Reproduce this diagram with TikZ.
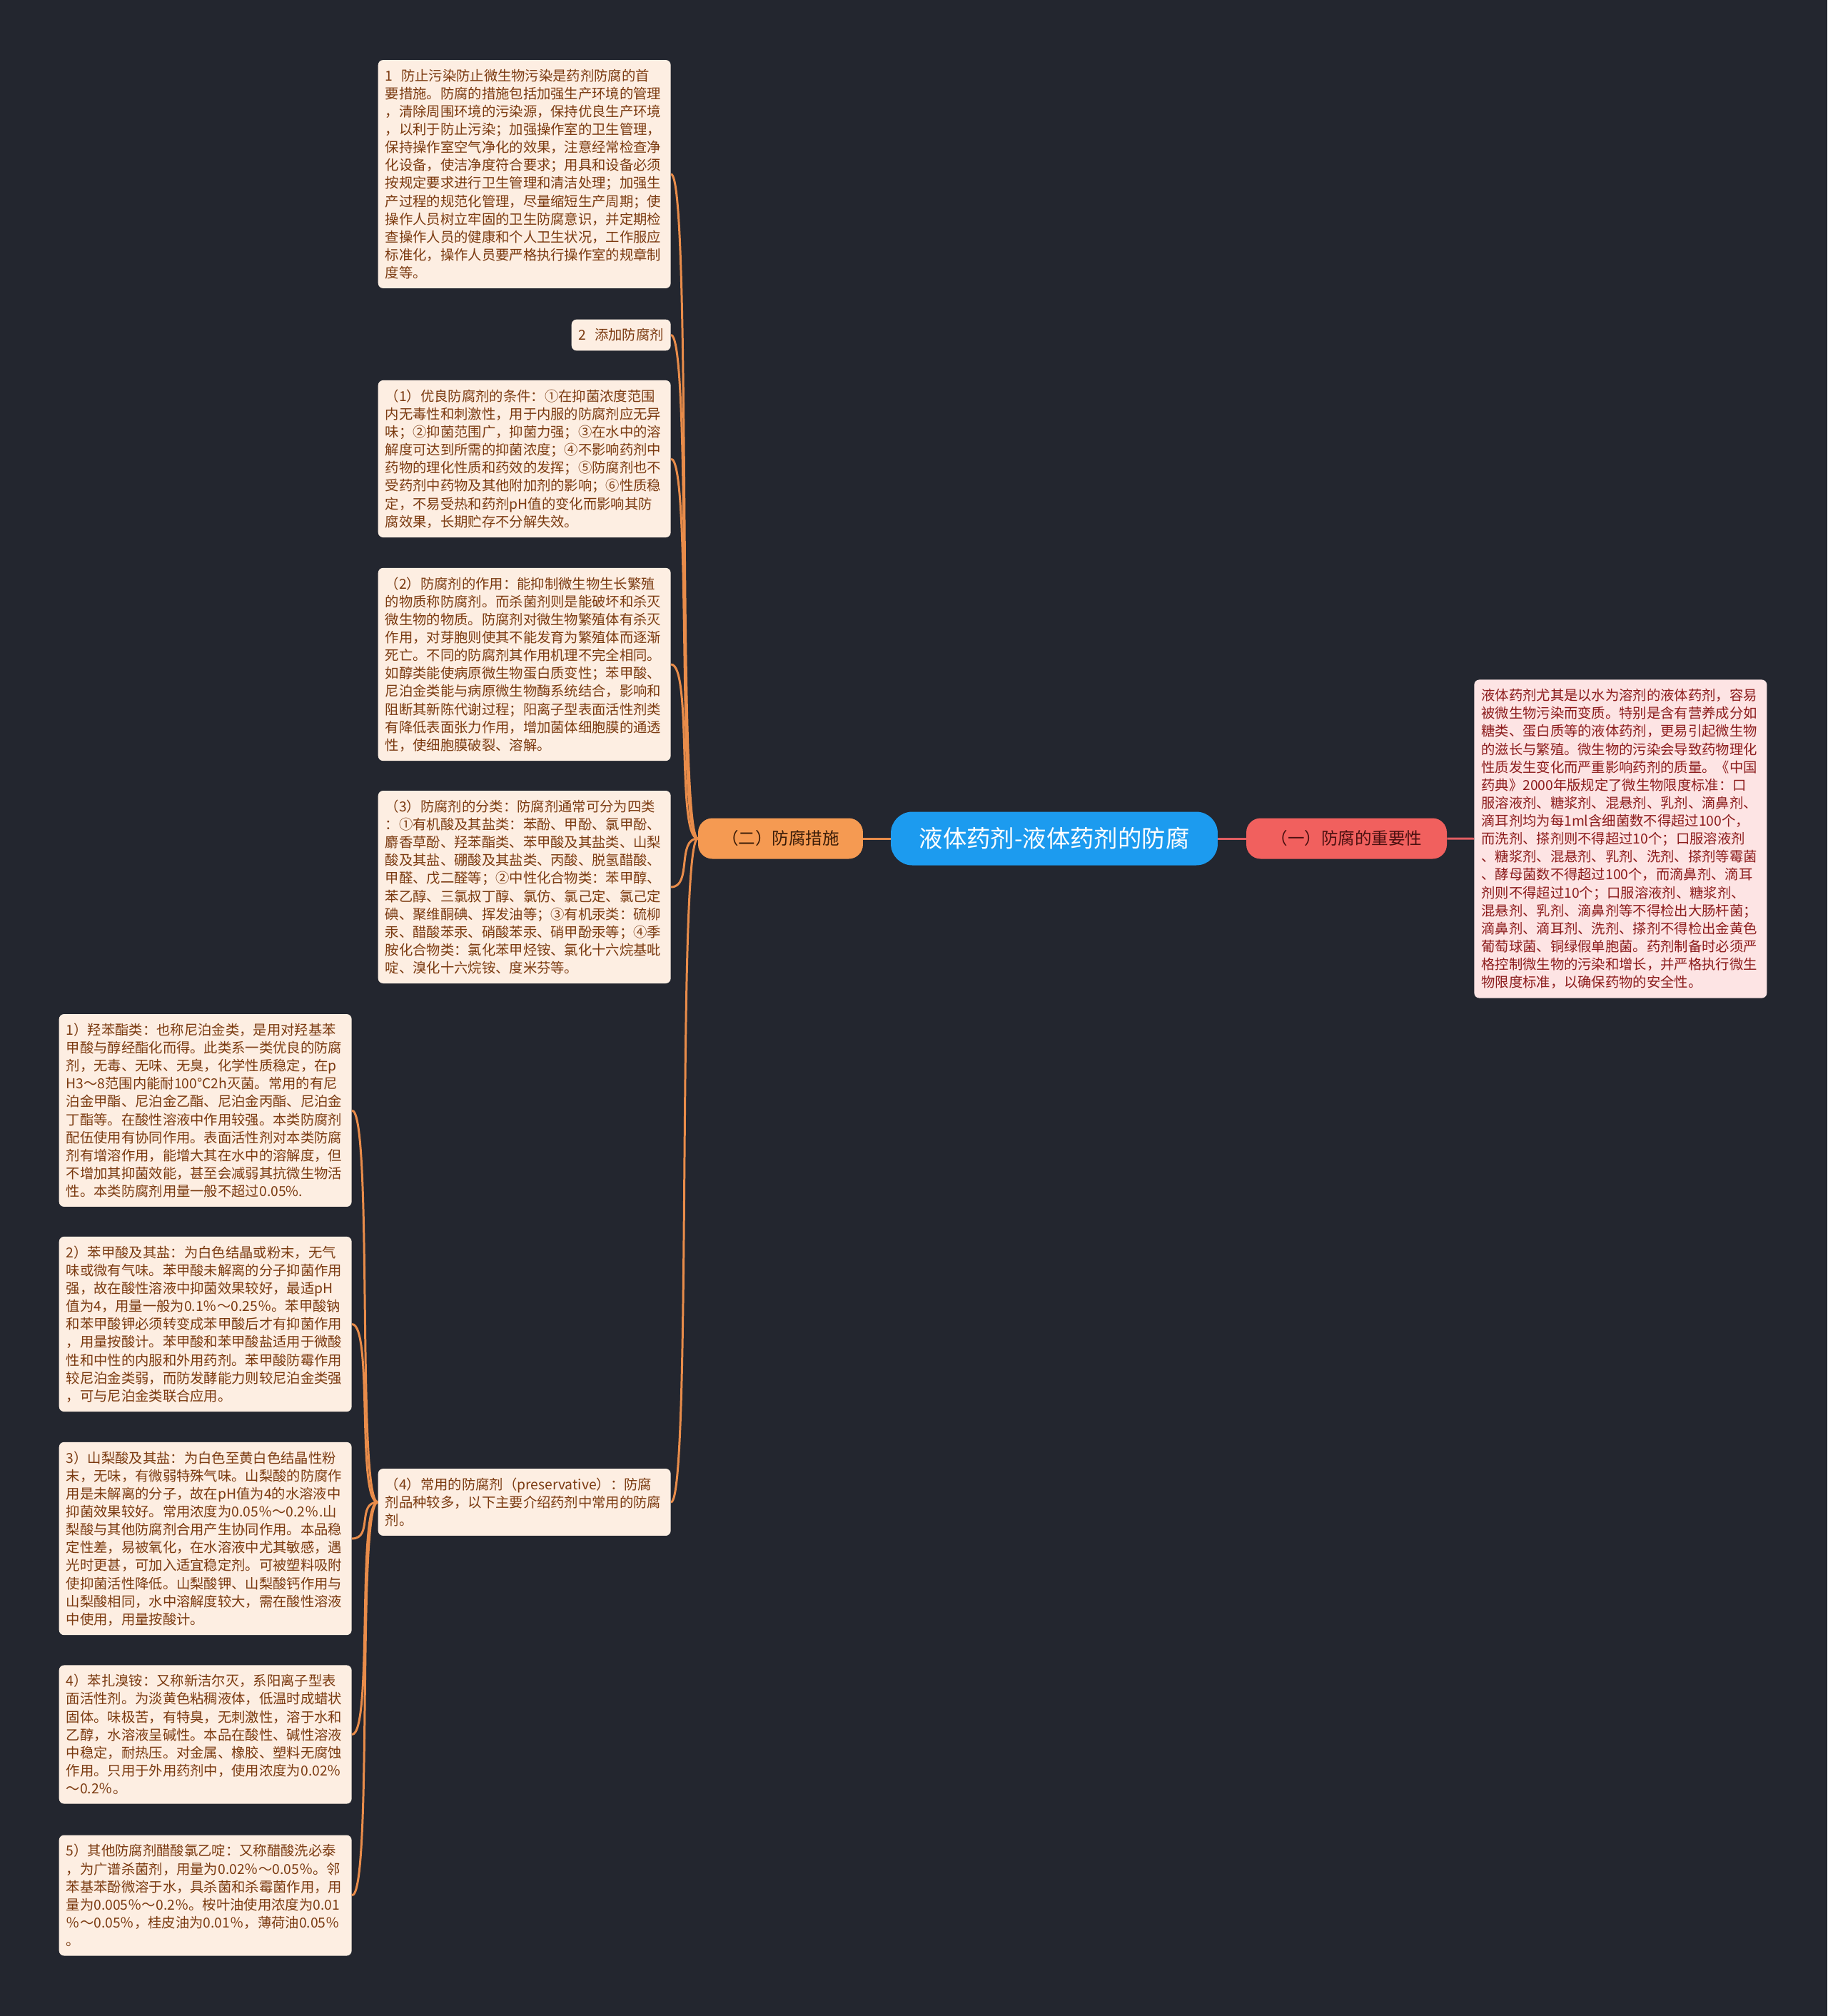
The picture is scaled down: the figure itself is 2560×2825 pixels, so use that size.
\documentclass[tikz,border=0pt]{standalone}
\usepackage{fontspec}
\newfontfamily\cjkfont{Noto Sans CJK SC}
\usepackage{tikz}
\definecolor{bgcol}{HTML}{23262F}
\definecolor{rootblue}{HTML}{1C9BEF}
\definecolor{orangefill}{HTML}{F59A52}
\definecolor{redfill}{HTML}{F1605E}
\definecolor{otext}{HTML}{3A1C08}
\definecolor{rtext}{HTML}{4A1010}
\definecolor{leaffill}{HTML}{FDEEE2}
\definecolor{leaftext}{HTML}{7B3A10}
\definecolor{pinkfill}{HTML}{FDE4E4}
\definecolor{pinktext}{HTML}{8C1C1C}
\definecolor{olinecol}{HTML}{E98C4A}
\definecolor{rlinecol}{HTML}{E15D62}

\begin{document}
\begin{tikzpicture}[x=0.02cm, y=-0.02cm,
  rootnode/.style={fill=rootblue, text=white, rounded corners=0.6cm, minimum width=9.16cm, minimum height=1.5cm, font=\cjkfont\fontsize{19}{23}\selectfont},
  subnode/.style={rounded corners=0.4cm, minimum height=1.14cm, font=\cjkfont\fontsize{13.4}{16}\selectfont},
  leafbox/.style={fill=leaffill, text=leaftext, rounded corners=4pt, inner xsep=0.2cm, inner ysep=7.3pt, align=left, font=\cjkfont\fontsize{11}{14.3}\selectfont},
  widebox/.style={leafbox, text width=7.8cm},
  pinkbox/.style={widebox, fill=pinkfill, text=pinktext},
  olink/.style={draw=olinecol, line width=1.7pt},
  rlink/.style={draw=rlinecol, line width=1.7pt}]
  \fill[bgcol] (0,0) rectangle (2560,2825);
  \useasboundingbox (0,0) rectangle (2560,2825);

  % centre and the two branches
  \node[rootnode] (root) at (1477,1175) {液体药剂-液体药剂的防腐};
  \node[subnode, fill=orangefill, text=otext, minimum width=4.62cm] (measure) at (1093.5,1175) {（二）防腐措施};
  \node[subnode, fill=redfill, text=rtext, minimum width=5.62cm] (importance) at (1886.5,1175) {（一）防腐的重要性};

  % right side
  \node[pinkbox, anchor=west] (why) at (2065,1175.5) {液体药剂尤其是以水为溶剂的液体药剂，容易\\被微生物污染而变质。特别是含有营养成分如\\糖类、蛋白质等的液体药剂，更易引起微生物\\的滋长与繁殖。微生物的污染会导致药物理化\\性质发生变化而严重影响药剂的质量。《中国\\药典》2000年版规定了微生物限度标准：口\\服溶液剂、糖浆剂、混悬剂、乳剂、滴鼻剂、\\滴耳剂均为每1ml含细菌数不得超过100个，\\而洗剂、搽剂则不得超过10个；口服溶液剂\\、糖浆剂、混悬剂、乳剂、洗剂、搽剂等霉菌\\、酵母菌数不得超过100个，而滴鼻剂、滴耳\\剂则不得超过10个；口服溶液剂、糖浆剂、\\混悬剂、乳剂、滴鼻剂等不得检出大肠杆菌；\\滴鼻剂、滴耳剂、洗剂、搽剂不得检出金黄色\\葡萄球菌、铜绿假单胞菌。药剂制备时必须严\\格控制微生物的污染和增长，并严格执行微生\\物限度标准，以确保药物的安全性。};

  % left side, first level
  \node[widebox, anchor=east] (clean) at (940,244) {1\hspace{0.6em}防止污染防止微生物污染是药剂防腐的首\\要措施。防腐的措施包括加强生产环境的管理\\，清除周围环境的污染源，保持优良生产环境\\，以利于防止污染；加强操作室的卫生管理，\\保持操作室空气净化的效果，注意经常检查净\\化设备，使洁净度符合要求；用具和设备必须\\按规定要求进行卫生管理和清洁处理；加强生\\产过程的规范化管理，尽量缩短生产周期；使\\操作人员树立牢固的卫生防腐意识，并定期检\\查操作人员的健康和个人卫生状况，工作服应\\标准化，操作人员要严格执行操作室的规章制\\度等。};
  \node[leafbox, anchor=east] (addp) at (940,469.5) {2\hspace{0.6em}添加防腐剂};
  \node[widebox, anchor=east] (cond) at (940,643) {（1）优良防腐剂的条件：①在抑菌浓度范围\\内无毒性和刺激性，用于内服的防腐剂应无异\\味；②抑菌范围广，抑菌力强；③在水中的溶\\解度可达到所需的抑菌浓度；④不影响药剂中\\药物的理化性质和药效的发挥；⑤防腐剂也不\\受药剂中药物及其他附加剂的影响；⑥性质稳\\定，不易受热和药剂pH值的变化而影响其防\\腐效果，长期贮存不分解失效。};
  \node[widebox, anchor=east] (role) at (940,931) {（2）防腐剂的作用：能抑制微生物生长繁殖\\的物质称防腐剂。而杀菌剂则是能破坏和杀灭\\微生物的物质。防腐剂对微生物繁殖体有杀灭\\作用，对芽胞则使其不能发育为繁殖体而逐渐\\死亡。不同的防腐剂其作用机理不完全相同。\\如醇类能使病原微生物蛋白质变性；苯甲酸、\\尼泊金类能与病原微生物酶系统结合，影响和\\阻断其新陈代谢过程；阳离子型表面活性剂类\\有降低表面张力作用，增加菌体细胞膜的通透\\性，使细胞膜破裂、溶解。};
  \node[widebox, anchor=east] (kinds) at (940,1243) {（3）防腐剂的分类：防腐剂通常可分为四类\\：①有机酸及其盐类：苯酚、甲酚、氯甲酚、\\麝香草酚、羟苯酯类、苯甲酸及其盐类、山梨\\酸及其盐、硼酸及其盐类、丙酸、脱氢醋酸、\\甲醛、戊二醛等；②中性化合物类：苯甲醇、\\苯乙醇、三氯叔丁醇、氯仿、氯己定、氯己定\\碘、聚维酮碘、挥发油等；③有机汞类：硫柳\\汞、醋酸苯汞、硝酸苯汞、硝甲酚汞等；④季\\胺化合物类：氯化苯甲烃铵、氯化十六烷基吡\\啶、溴化十六烷铵、度米芬等。};
  \node[widebox, anchor=east] (common) at (940,2105) {（4）常用的防腐剂（preservative）：防腐\\剂品种较多，以下主要介绍药剂中常用的防腐\\剂。};

  % left side, second level
  \node[widebox, anchor=east] (nipagin) at (493,1556) {1）羟苯酯类：也称尼泊金类，是用对羟基苯\\甲酸与醇经酯化而得。此类系一类优良的防腐\\剂，无毒、无味、无臭，化学性质稳定，在p\\H3～8范围内能耐100℃2h灭菌。常用的有尼\\泊金甲酯、尼泊金乙酯、尼泊金丙酯、尼泊金\\丁酯等。在酸性溶液中作用较强。本类防腐剂\\配伍使用有协同作用。表面活性剂对本类防腐\\剂有增溶作用，能增大其在水中的溶解度，但\\不增加其抑菌效能，甚至会减弱其抗微生物活\\性。本类防腐剂用量一般不超过0.05\%.};
  \node[widebox, anchor=east] (benzoic) at (493,1855.5) {2）苯甲酸及其盐：为白色结晶或粉末，无气\\味或微有气味。苯甲酸未解离的分子抑菌作用\\强，故在酸性溶液中抑菌效果较好，最适pH\\值为4，用量一般为0.1％～0.25％。苯甲酸钠\\和苯甲酸钾必须转变成苯甲酸后才有抑菌作用\\，用量按酸计。苯甲酸和苯甲酸盐适用于微酸\\性和中性的内服和外用药剂。苯甲酸防霉作用\\较尼泊金类弱，而防发酵能力则较尼泊金类强\\，可与尼泊金类联合应用。};
  \node[widebox, anchor=east] (sorbic) at (493,2156) {3）山梨酸及其盐：为白色至黄白色结晶性粉\\末，无味，有微弱特殊气味。山梨酸的防腐作\\用是未解离的分子，故在pH值为4的水溶液中\\抑菌效果较好。常用浓度为0.05％～0.2％.山\\梨酸与其他防腐剂合用产生协同作用。本品稳\\定性差，易被氧化，在水溶液中尤其敏感，遇\\光时更甚，可加入适宜稳定剂。可被塑料吸附\\使抑菌活性降低。山梨酸钾、山梨酸钙作用与\\山梨酸相同，水中溶解度较大，需在酸性溶液\\中使用，用量按酸计。};
  \node[widebox, anchor=east] (bromo) at (493,2430.5) {4）苯扎溴铵：又称新洁尔灭，系阳离子型表\\面活性剂。为淡黄色粘稠液体，低温时成蜡状\\固体。味极苦，有特臭，无刺激性，溶于水和\\乙醇，水溶液呈碱性。本品在酸性、碱性溶液\\中稳定，耐热压。对金属、橡胶、塑料无腐蚀\\作用。只用于外用药剂中，使用浓度为0.02％\\～0.2％。};
  \node[widebox, anchor=east] (other) at (493,2656) {5）其他防腐剂醋酸氯乙啶：又称醋酸洗必泰\\，为广谱杀菌剂，用量为0.02％～0.05％。邻\\苯基苯酚微溶于水，具杀菌和杀霉菌作用，用\\量为0.005％～0.2％。桉叶油使用浓度为0.01\\％～0.05％，桂皮油为0.01％，薄荷油0.05％\\。};

  % connectors
  \draw[olink] (root) -- (measure);
  \draw[rlink] (root) -- (importance);
  \draw[rlink] (importance) -- (why);
  \foreach \n in {clean,addp,cond,role,kinds,common}
    \draw[olink] (measure.west) .. controls +(-30,0) and +(30,0) .. (\n.east);
  \foreach \n in {nipagin,benzoic,sorbic,bromo,other}
    \draw[olink] (common.west) .. controls +(-30,0) and +(30,0) .. (\n.east);
\end{tikzpicture}
\end{document}
